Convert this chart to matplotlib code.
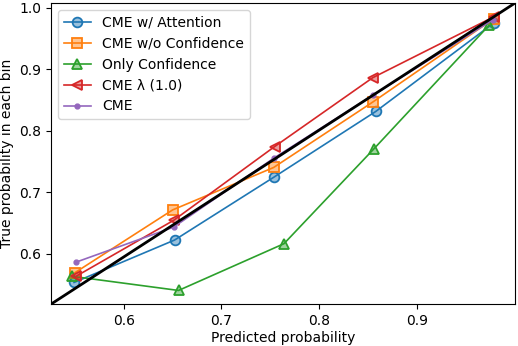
import numpy as np
import matplotlib
matplotlib.use('Agg')
import matplotlib.pyplot as plt

# calibration bins (predicted prob, true prob)
att_x = [0.549, 0.652, 0.7535, 0.858, 0.979]
att_y = [0.553, 0.622, 0.724, 0.831, 0.975]

noconf_x = [0.550, 0.650, 0.7535, 0.8556, 0.979]
noconf_y = [0.569, 0.671, 0.740, 0.847, 0.982]

conf_x = [0.547, 0.656, 0.764, 0.856, 0.974]
conf_y = [0.563, 0.540, 0.616, 0.770, 0.971]

lam_x = [0.551, 0.651, 0.7545, 0.855, 0.979]
lam_y = [0.563, 0.654, 0.774, 0.886, 0.985]

cme_x = [0.551, 0.651, 0.7535, 0.8556, 0.978]
cme_y = [0.586, 0.643, 0.755, 0.858, 0.980]

fig = plt.figure(figsize=(5.18, 3.46), dpi=100)
ax = fig.add_axes([0.0985, 0.121, 0.8955, 0.870])

def face(c):
    return matplotlib.colors.to_rgba(c, 0.45)

def edge(c):
    return matplotlib.colors.to_rgba(c, 1.0)

ax.plot(att_x, att_y, color='tab:blue', marker='o', ms=7, lw=1.2,
        mfc=face('tab:blue'), mec=edge('tab:blue'), mew=1.3, label='CME w/ Attention')
ax.plot(noconf_x, noconf_y, color='tab:orange', marker='s', ms=7, lw=1.2,
        mfc=face('tab:orange'), mec=edge('tab:orange'), mew=1.3, label='CME w/o Confidence')
ax.plot(conf_x, conf_y, color='tab:green', marker='^', ms=7, lw=1.2,
        mfc=face('tab:green'), mec=edge('tab:green'), mew=1.3, label='Only Confidence')
ax.plot(lam_x, lam_y, color='tab:red', marker='<', ms=7, lw=1.2,
        mfc=face('tab:red'), mec=edge('tab:red'), mew=1.3, label='CME λ (1.0)')
ax.plot(cme_x, cme_y, color='tab:purple', marker='.', ms=7, lw=1.2,
        label='CME')

# perfect calibration line corner to corner
ax.plot([0, 1], [0, 1], transform=ax.transAxes, color='black', lw=2)

ax.set_xticks([0.6, 0.7, 0.8, 0.9])
ax.set_yticks([0.6, 0.7, 0.8, 0.9, 1.0])
ax.set_xlabel('Predicted probability', labelpad=2)
ax.set_ylabel('True probability in each bin')
ax.legend(loc='upper left')

fig.savefig('out.png', dpi=100)
